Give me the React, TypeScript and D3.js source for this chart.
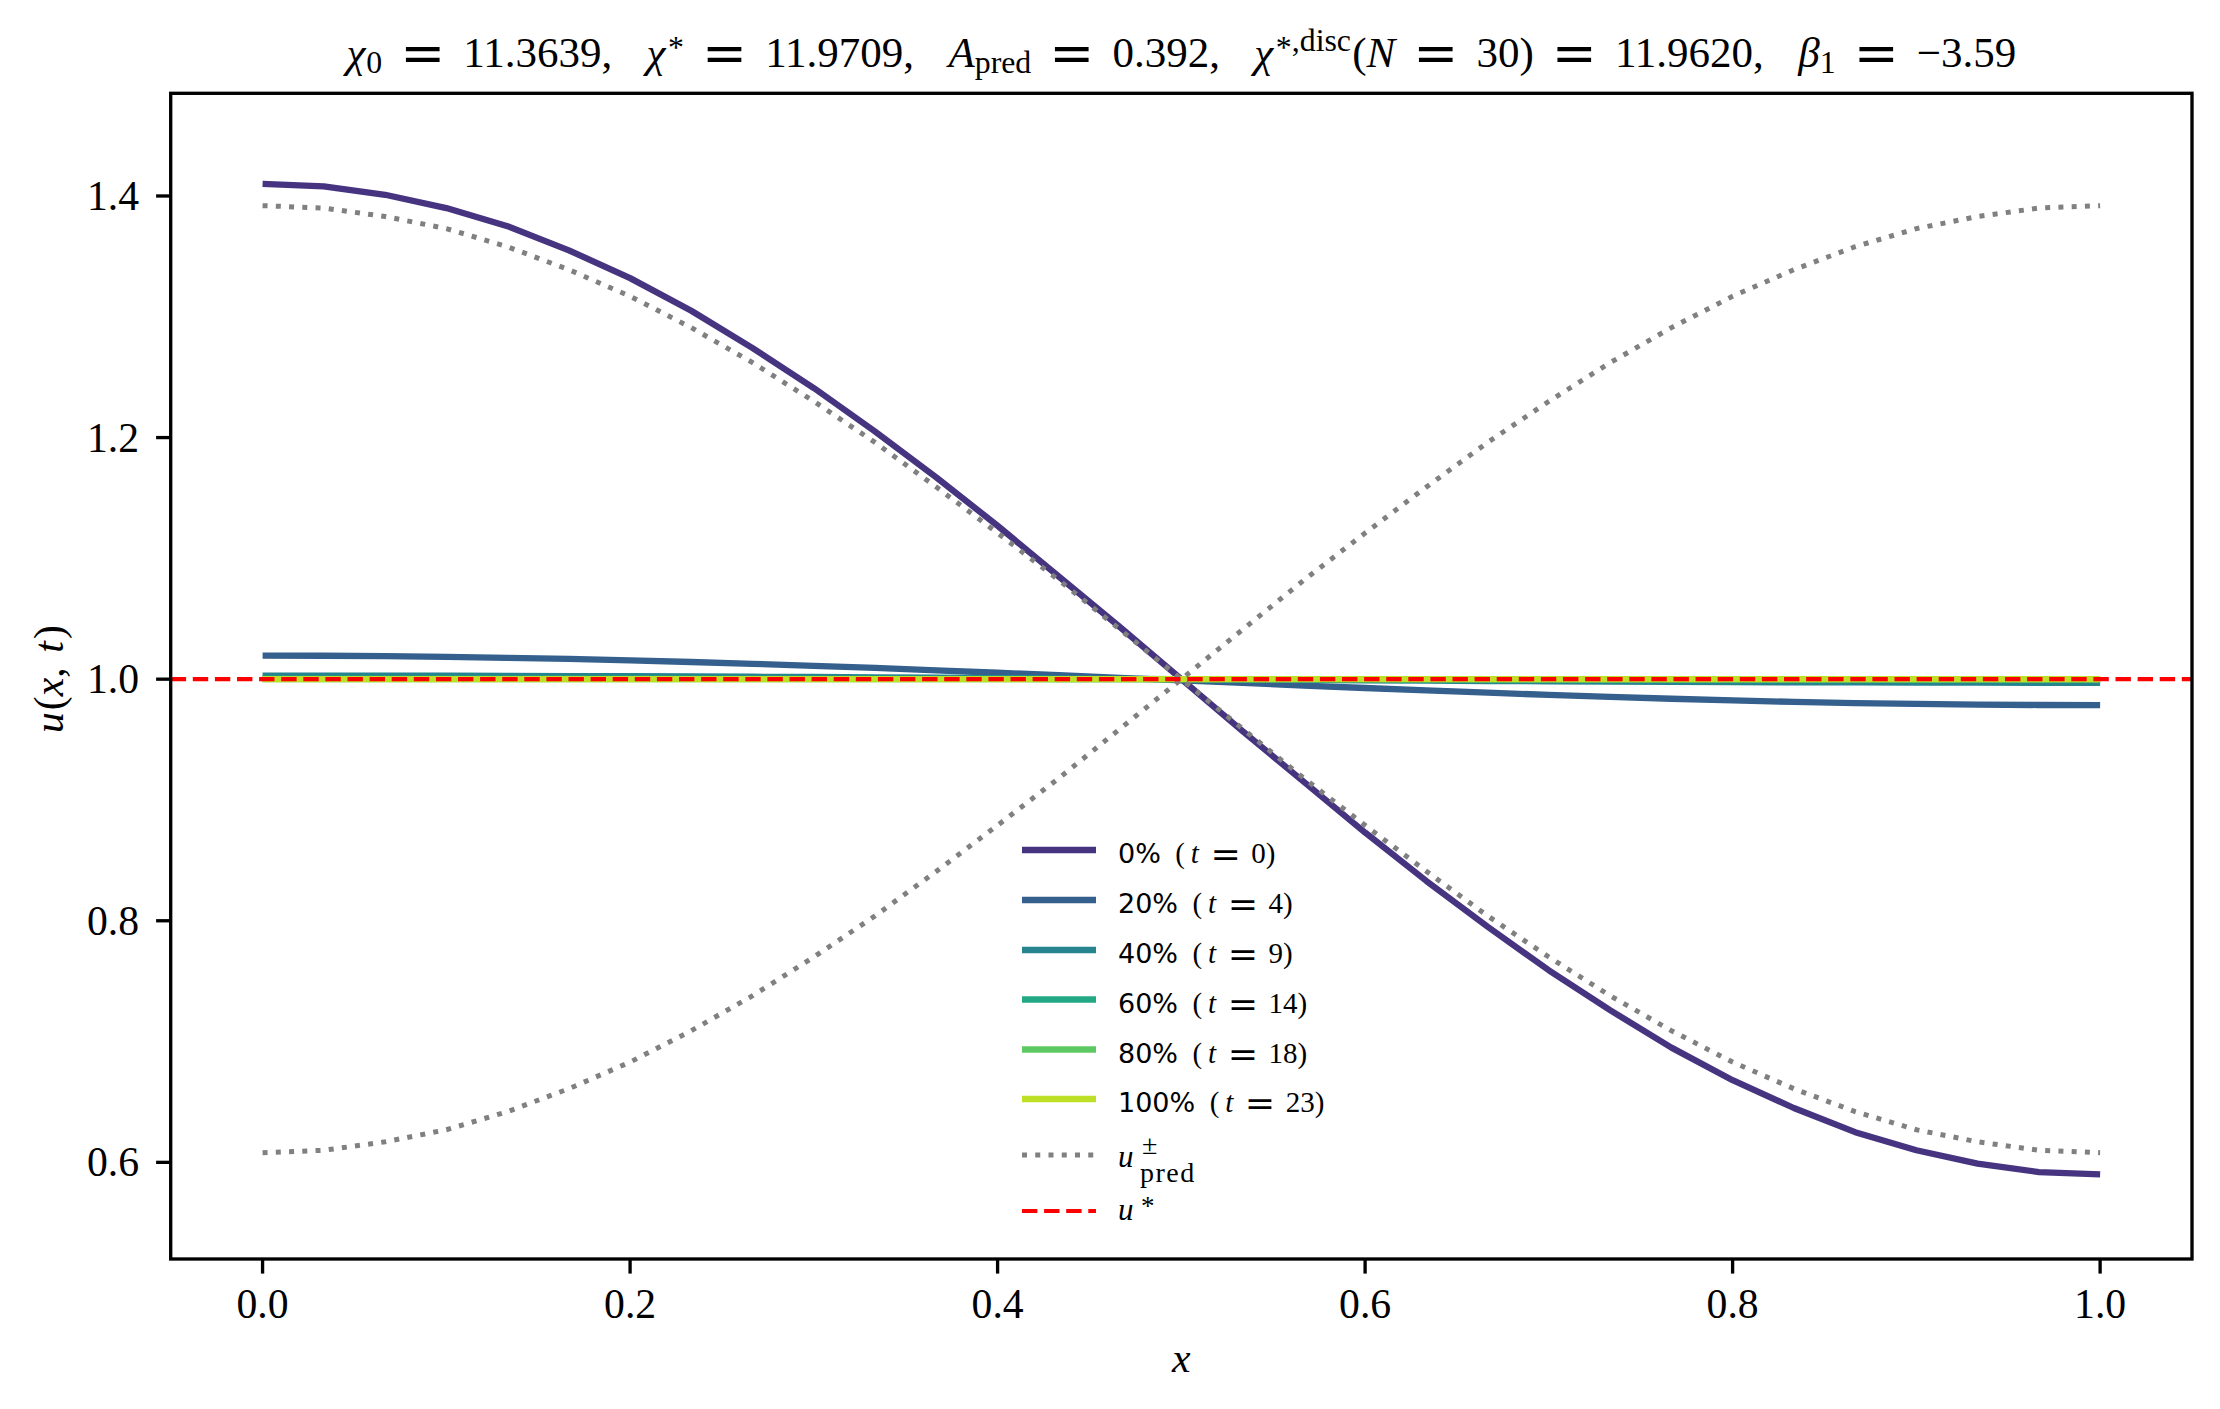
import React from "react";
import * as d3 from "d3";

// ---------- data ----------
const xGrid = [
  0.0, 0.0333, 0.0667, 0.1, 0.1333, 0.1667, 0.2, 0.2333, 0.2667, 0.3, 0.3333,
  0.3667, 0.4, 0.4333, 0.4667, 0.5, 0.5333, 0.5667, 0.6, 0.6333, 0.6667, 0.7,
  0.7333, 0.7667, 0.8, 0.8333, 0.8667, 0.9, 0.9333, 0.9667, 1.0,
];

const u0 = [
  1.41, 1.408, 1.401, 1.39, 1.375, 1.355, 1.332, 1.305, 1.274, 1.241, 1.205,
  1.167, 1.127, 1.085, 1.043, 1.0, 0.957, 0.915, 0.873, 0.833, 0.795, 0.759,
  0.726, 0.695, 0.668, 0.645, 0.625, 0.61, 0.599, 0.592, 0.59,
];
const u20 = [
  1.0195, 1.0194, 1.0191, 1.0185, 1.0177, 1.0168, 1.0156, 1.0142, 1.0127,
  1.011, 1.0093, 1.0073, 1.0053, 1.0033, 1.0011, 0.999, 0.9969, 0.9947, 0.9927,
  0.9907, 0.9888, 0.987, 0.9853, 0.9838, 0.9824, 0.9812, 0.9802, 0.9795, 0.979,
  0.9786, 0.9785,
];
const u40 = [
  1.003, 1.003, 1.0029, 1.0029, 1.0027, 1.0026, 1.0024, 1.0022, 1.002, 1.0018,
  1.0015, 1.0012, 1.0009, 1.0006, 1.0003, 1.0, 0.9997, 0.9994, 0.9991, 0.9988,
  0.9985, 0.9982, 0.998, 0.9978, 0.9976, 0.9974, 0.9973, 0.9971, 0.9971, 0.997,
  0.997,
];
const u60 = [
  1.0005, 1.0005, 1.0005, 1.0005, 1.0005, 1.0004, 1.0004, 1.0004, 1.0003,
  1.0003, 1.0003, 1.0002, 1.0002, 1.0001, 1.0001, 1.0, 0.9999, 0.9999, 0.9998,
  0.9998, 0.9997, 0.9997, 0.9996, 0.9996, 0.9996, 0.9995, 0.9995, 0.9995,
  0.9995, 0.9995, 0.9995,
];
const u80 = [
  1.0001, 1.0001, 1.0001, 1.0001, 1.0001, 1.0001, 1.0001, 1.0001, 1.0001,
  1.0001, 1.0, 1.0, 1.0, 1.0, 1.0, 1.0, 1.0, 1.0, 1.0, 1.0, 1.0, 0.9999,
  0.9999, 0.9999, 0.9999, 0.9999, 0.9999, 0.9999, 0.9999, 0.9999, 0.9999,
];
const u100 = [
  1.0, 1.0, 1.0, 1.0, 1.0, 1.0, 1.0, 1.0, 1.0, 1.0, 1.0, 1.0, 1.0, 1.0, 1.0,
  1.0, 1.0, 1.0, 1.0, 1.0, 1.0, 1.0, 1.0, 1.0, 1.0, 1.0, 1.0, 1.0, 1.0, 1.0,
  1.0,
];
const uPredPlus = [
  1.392, 1.39, 1.383, 1.373, 1.358, 1.339, 1.317, 1.291, 1.262, 1.23, 1.196,
  1.159, 1.121, 1.082, 1.041, 1.0, 0.959, 0.918, 0.879, 0.841, 0.804, 0.77,
  0.738, 0.709, 0.683, 0.661, 0.642, 0.627, 0.617, 0.61, 0.608,
];
const uPredMinus = [
  0.608, 0.61, 0.617, 0.627, 0.642, 0.661, 0.683, 0.709, 0.738, 0.77, 0.804,
  0.841, 0.879, 0.918, 0.959, 1.0, 1.041, 1.082, 1.121, 1.159, 1.196, 1.23,
  1.262, 1.291, 1.317, 1.339, 1.358, 1.373, 1.383, 1.39, 1.392,
];
const uStar = 1.0;

const seriesLabels = ["0%", "20%", "40%", "60%", "80%", "100%"];
const seriesTimes = ["0", "4", "9", "14", "18", "23"];
const seriesValues = [u0, u20, u40, u60, u80, u100];
const colorPositions = [0.15, 0.3, 0.45, 0.6, 0.75, 0.9];

const xTicks = [0.0, 0.2, 0.4, 0.6, 0.8, 1.0];
const yTicks = [0.6, 0.8, 1.0, 1.2, 1.4];
const xDomain = [-0.05, 1.05];
const yDomain = [0.52, 1.485];

// ---------- layout ----------
const W = 2220;
const H = 1409;
const L = 170.7;
const R = 2192;
const T = 93.3;
const B = 1259;
const SERIF = "'Liberation Serif', 'Times New Roman', serif";
const EQF = "'DejaVu Serif', serif";
const SANS = "'DejaVu Sans', sans-serif";
const FS = 41.7;
const TFS = 43;

type Tok = {
  s: string;
  it?: boolean;
  shift?: number;
  scale?: number;
  dx?: number;
  ff?: string;
};

function renderToks(toks: Tok[], F: number) {
  let cur = 0;
  return toks.map((k, i) => {
    const sh = (k.shift || 0) * F;
    const dy = -(sh - cur);
    cur = sh;
    return (
      <tspan
        key={i}
        dy={dy}
        dx={(k.dx || 0) * F}
        fontStyle={k.it ? "italic" : "normal"}
        fontSize={(k.scale || 1) * F}
        fontFamily={k.ff}
      >
        {k.s}
      </tspan>
    );
  });
}

const EQ = 0.42;
const CM = 0.8;
const SUB = 0.74;
const eq = (): Tok => ({ s: "=", dx: EQ, ff: EQF, shift: -0.12, scale: 1.25 });
const titleToks: Tok[] = [
  { s: "χ", it: true },
  { s: "0", shift: -0.15, scale: SUB, dx: 0.02 },
  eq(),
  { s: "11.3639,", dx: EQ, shift: 0 },
  { s: "χ", it: true, dx: CM },
  { s: "*", shift: 0.2, scale: SUB, dx: 0.06 },
  eq(),
  { s: "11.9709,", dx: EQ },
  { s: "A", it: true, dx: CM },
  { s: "pred", shift: -0.15, scale: SUB },
  eq(),
  { s: "0.392,", dx: EQ },
  { s: "χ", it: true, dx: CM },
  { s: "*", shift: 0.2, scale: SUB, dx: 0.06 },
  { s: ",disc", shift: 0.36, scale: SUB },
  { s: "(", dx: 0.03 },
  { s: "N", it: true },
  eq(),
  { s: "30)", dx: EQ },
  eq(),
  { s: "11.9620,", dx: EQ },
  { s: "β", it: true, dx: CM },
  { s: "1", shift: -0.15, scale: SUB },
  eq(),
  { s: "−3.59", dx: EQ },
];

const ylabelToks: Tok[] = [
  { s: "u", it: true },
  { s: "(", dx: 0.05 },
  { s: "x", it: true },
  { s: "," },
  { s: "t", it: true, dx: 0.35 },
  { s: ")", dx: 0.05 },
];

export default function App() {
  const x = d3.scaleLinear().domain(xDomain).range([L, R]);
  const y = d3.scaleLinear().domain(yDomain).range([B, T]);
  const line = d3
    .line<number>()
    .x((_, i) => x(xGrid[i]))
    .y((d) => y(d));
  const colors = colorPositions.map((p) => d3.interpolateViridis(p));
  const fmt = d3.format(".1f");

  const LW = 6.3;
  const dotW = 5;
  const dotDash = "5 8.25";
  const redW = 4.17;
  const redDash = "15.4 6.7";

  // legend
  const legX1 = 1022;
  const legX2 = 1096;
  const legTextX = 1118;
  const rowY = [850, 900, 950, 999.5, 1049.5, 1099];
  const LF = 29;

  return (
    <svg
      width={W}
      height={H}
      style={{ position: "absolute", left: 0, top: 0, background: "#fff" }}
    >
      <rect x={0} y={0} width={W} height={H} fill="#fff" />
      {/* series */}
      {seriesValues.map((vals, i) => (
        <path
          key={i}
          d={line(vals) || ""}
          fill="none"
          stroke={colors[i]}
          strokeWidth={LW}
          strokeLinejoin="round"
          strokeLinecap="butt"
        />
      ))}
      <path
        d={line(uPredPlus) || ""}
        fill="none"
        stroke="#808080"
        strokeWidth={dotW}
        strokeDasharray={dotDash}
      />
      <path
        d={line(uPredMinus) || ""}
        fill="none"
        stroke="#808080"
        strokeWidth={dotW}
        strokeDasharray={dotDash}
      />
      <line
        x1={L}
        x2={R}
        y1={y(uStar)}
        y2={y(uStar)}
        stroke="#ff0000"
        strokeWidth={redW}
        strokeDasharray={redDash}
      />

      {/* axes frame */}
      <rect x={L} y={T} width={R - L} height={B - T} fill="none" stroke="#000" strokeWidth={3.33} />

      {/* x ticks */}
      {xTicks.map((t) => (
        <g key={"x" + t}>
          <line x1={x(t)} x2={x(t)} y1={B} y2={B + 14.6} stroke="#000" strokeWidth={3.33} />
          <text x={x(t)} y={1318} textAnchor="middle" fontFamily={SERIF} fontSize={FS}>
            {fmt(t)}
          </text>
        </g>
      ))}
      {/* y ticks */}
      {yTicks.map((t) => (
        <g key={"y" + t}>
          <line x1={L - 14.6} x2={L} y1={y(t)} y2={y(t)} stroke="#000" strokeWidth={3.33} />
          <text x={139} y={y(t) + 14} textAnchor="end" fontFamily={SERIF} fontSize={FS}>
            {fmt(t)}
          </text>
        </g>
      ))}

      {/* x label */}
      <text
        x={(L + R) / 2}
        y={1372}
        textAnchor="middle"
        fontFamily={SERIF}
        fontSize={FS}
        fontStyle="italic"
      >
        x
      </text>
      {/* y label */}
      <text
        transform={`translate(63, ${(T + B) / 2 + 3}) rotate(-90)`}
        textAnchor="middle"
        fontFamily={SERIF}
        fontSize={FS}
        style={{ whiteSpace: "pre" }}
      >
        {renderToks(ylabelToks, FS)}
      </text>

      {/* title */}
      <text
        x={(L + R) / 2}
        y={66.7}
        textAnchor="middle"
        fontFamily={SERIF}
        fontSize={TFS}
        style={{ whiteSpace: "pre" }}
      >
        {renderToks(titleToks, TFS)}
      </text>

      {/* legend */}
      {seriesLabels.map((lab, i) => (
        <g key={"leg" + i}>
          <line
            x1={legX1}
            x2={legX2}
            y1={rowY[i]}
            y2={rowY[i]}
            stroke={colors[i]}
            strokeWidth={LW}
          />
          <text
            x={legTextX}
            y={rowY[i] + 13}
            fontFamily={SERIF}
            fontSize={LF}
            style={{ whiteSpace: "pre" }}
          >
            <tspan fontFamily={SANS} fontSize={27}>
              {lab}
            </tspan>
            {renderToks(
              [
                { s: "(", dx: 0.5 },
                { s: "t", it: true, dx: 0.2 },
                { s: "=", dx: 0.4, ff: EQF, shift: -0.12, scale: 1.25 },
                { s: seriesTimes[i], dx: 0.36 },
                { s: ")" },
              ],
              LF
            )}
          </text>
        </g>
      ))}
      <line
        x1={legX1}
        x2={legX2}
        y1={1155}
        y2={1155}
        stroke="#808080"
        strokeWidth={dotW}
        strokeDasharray={dotDash}
      />
      <text x={legTextX} y={1167} fontFamily={SERIF} fontSize={31} fontStyle="italic">
        u
      </text>
      <text x={1142} y={1154} fontFamily={SERIF} fontSize={28}>
        ±
      </text>
      <text x={1140} y={1182} fontFamily={SERIF} fontSize={28} letterSpacing={1.5}>
        pred
      </text>
      <line
        x1={legX1}
        x2={legX2}
        y1={1211}
        y2={1211}
        stroke="#ff0000"
        strokeWidth={redW}
        strokeDasharray={redDash}
      />
      <text x={legTextX} y={1220} fontFamily={SERIF} fontSize={31} fontStyle="italic">
        u
      </text>
      <text x={1141} y={1215} fontFamily={SERIF} fontSize={27}>
        *
      </text>
    </svg>
  );
}
